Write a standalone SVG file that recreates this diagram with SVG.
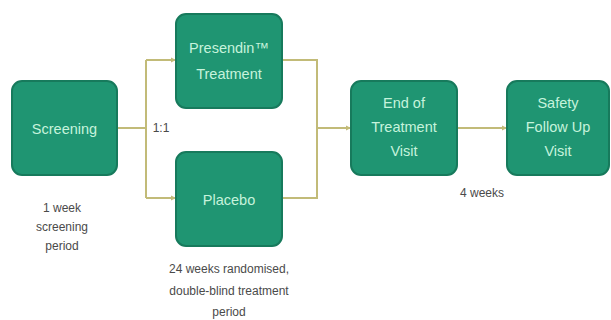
<svg xmlns="http://www.w3.org/2000/svg" width="611" height="320" viewBox="0 0 611 320">
<defs>
<style>
.box{fill:#1f9572;stroke:#177a5c;stroke-width:2}
.bt{font-family:"Liberation Sans Narrow","Liberation Sans",sans-serif;font-size:14.5px;fill:#c6f3dc;text-anchor:middle}
.lb{font-family:"Liberation Sans Narrow","Liberation Sans",sans-serif;font-size:12px;fill:#4a4a4a;text-anchor:middle}
.ln{fill:none;stroke:#c2bb78;stroke-width:2}
</style>
<marker id="ah" markerWidth="6" markerHeight="6" refX="5" refY="3" orient="auto" markerUnits="userSpaceOnUse">
<path d="M0,0.5 L5,3 L0,5.5 Z" fill="#c2bb78"/>
</marker>
</defs>
<rect width="611" height="320" fill="#ffffff"/>
<g id="connectors">
<path class="ln" d="M117,128 H146"/>
<path class="ln" d="M146,60 V198"/>
<path class="ln" d="M146,60 H176" marker-end="url(#ah)"/>
<path class="ln" d="M146,198 H176" marker-end="url(#ah)"/>
<path class="ln" d="M282,60 H317 V198 H282"/>
<path class="ln" d="M317,128 H351" marker-end="url(#ah)"/>
<path class="ln" d="M457,128 H507" marker-end="url(#ah)"/>
</g>
<g id="screening">
<rect class="box" x="12" y="81" width="105" height="94" rx="10"/>
<text class="bt" x="64.5" y="134">Screening</text>
</g>
<g id="presendin">
<rect class="box" x="176" y="14" width="106" height="94" rx="10"/>
<text class="bt" x="229" y="53">Presendin™</text>
<text class="bt" x="229" y="79">Treatment</text>
</g>
<g id="placebo">
<rect class="box" x="176" y="152" width="106" height="94" rx="10"/>
<text class="bt" x="229" y="205">Placebo</text>
</g>
<g id="end-of-treatment">
<rect class="box" x="351" y="81" width="106" height="94" rx="10"/>
<text class="bt" x="404" y="108">End of</text>
<text class="bt" x="404" y="132">Treatment</text>
<text class="bt" x="404" y="156">Visit</text>
</g>
<g id="safety">
<rect class="box" x="507" y="81" width="102" height="94" rx="10"/>
<text class="bt" x="558" y="108">Safety</text>
<text class="bt" x="558" y="132">Follow Up</text>
<text class="bt" x="558" y="156">Visit</text>
</g>
<g id="labels">
<text class="lb" x="161" y="132">1:1</text>
<text class="lb" x="62" y="212">1 week</text>
<text class="lb" x="62" y="231">screening</text>
<text class="lb" x="62" y="250">period</text>
<text class="lb" x="229" y="273">24 weeks randomised,</text>
<text class="lb" x="229" y="295">double-blind treatment</text>
<text class="lb" x="229" y="316">period</text>
<text class="lb" x="482" y="197">4 weeks</text>
</g>
</svg>
